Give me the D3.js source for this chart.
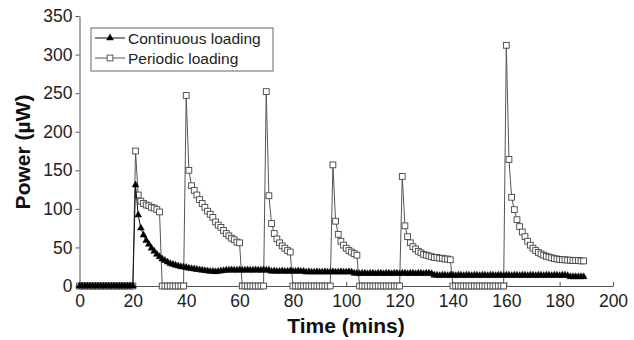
<!DOCTYPE html>
<html>
<head>
<meta charset="utf-8">
<script src="https://cdn.jsdelivr.net/npm/d3@7"></script>
<style>
  html, body { margin: 0; padding: 0; background: #fff; }
  svg { display: block; font-family: "Liberation Sans", Arial, sans-serif; }
</style>
</head>
<body>
<svg id="chart" width="634" height="340"></svg>
<script>
// ---- data (time in minutes, power in µW, one sample per minute t = 0..189) ----
const seriesNames = ["Continuous loading", "Periodic loading"];
const xTicks = [0, 20, 40, 60, 80, 100, 120, 140, 160, 180, 200];
const yTicks = [0, 50, 100, 150, 200, 250, 300, 350];

const continuous = [
  0,0,0,0,0,0,0,0,0,0,0,0,0,0,0,0,0,0,0,0,0,
  131,92,75,66,59,54,49,45,41,38,35,33,31,29,28,27,26,25,24.5,24,
  23,22.5,22,21.5,21,20.5,20,19.5,19,19,18.5,19,19.5,20,20.5,
  20.5,21,20.5,20.5,21,20.5,20.5,21,20.5,20.5,21,20.5,20.5,21,20.5,20.5,
  19,19.5,19,19,19.5,19,19,19.5,19,19,19.5,19,19,
  18,18.5,18,18,18.5,18,18,18.5,18,18,18.5,18,18,18.5,18,18,18.5,18,
  16.5,16.5,16,16.5,16.5,16,16.5,16.5,16,16.5,16.5,16,16.5,16.5,16,
  16.5,16.5,16,16.5,16.5,16,16.5,16.5,16,16.5,16.5,16,16.5,16.5,16,
  14,14,13.5,14,14,13.5,14,14,13.5,14,14,13.5,14,14,13.5,14,14,
  13.5,14,14,13.5,14,14,13.5,14,14,13.5,14,14,13.5,14,14,13.5,14,
  14,13.5,14,14,13.5,14,14,13.5,14,14,13.5,14,14,13.5,14,14,13.5,
  12,12,12,12,12,12
];

const periodic = [
  0,0,0,0,0,0,0,0,0,0,0,0,0,0,0,0,0,0,0,0,0,
  175,118,110,107,105,104,102,101,99,96,
  0,0,0,0,0,0,0,0,0,
  247,150,130,124,118,112,107,102,97,93,89,83,79,76,72,68,65,62,60,57,56,
  0,0,0,0,0,0,0,0,0,
  252,117,81,68,61,56,52,49,46,44,
  0,0,0,0,0,0,0,0,0,0,0,0,0,0,0,
  157,84,67,58,53,49,46,44,42,40,
  0,0,0,0,0,0,0,0,0,0,0,0,0,0,0,0,
  142,78,64,56,51,48,45,43,41,40,39,38,37,37,36,36,35,35,34,
  0,0,0,0,0,0,0,0,0,0,0,0,0,0,0,0,0,0,0,0,
  312,164,115,99,86,77,70,64,58,53,49,46,43.5,41.5,40,38.5,37.5,36.5,35.5,35,
  34.5,34,34,33.5,33.5,33,33,33,32.5,32.5
];

// ---- chart ----
const svg = d3.select("#chart");
const x = d3.scaleLinear().domain([0, 200]).range([79.5, 613]);
const y = d3.scaleLinear().domain([0, 350]).range([286, 16]);

const contPts = continuous.map((v, i) => [i, v]);
const perPts = periodic.map((v, i) => [i, v]);

const line = d3.line().x(d => x(d[0])).y(d => y(d[1]));

// axes
const yAxis = svg.append("g")
  .attr("transform", `translate(${x(0)},0)`)
  .call(d3.axisLeft(y).tickValues(yTicks).tickSizeInner(4).tickSizeOuter(0).tickPadding(3));
const xAxis = svg.append("g")
  .attr("transform", `translate(0,${y(0)})`)
  .call(d3.axisBottom(x).tickValues(xTicks).tickSizeInner(-4).tickSizeOuter(0).tickPadding(9));
[xAxis, yAxis].forEach(g => {
  g.selectAll("path.domain").attr("stroke", "#555").attr("stroke-width", 1);
  g.selectAll(".tick line").attr("stroke", "#555");
  g.selectAll(".tick text").attr("fill", "#222")
    .style("font-size", "17.5px").style("font-family", '"Liberation Sans", Arial, sans-serif');
});

// periodic series
svg.append("path").datum(perPts)
  .attr("d", line).attr("fill", "none").attr("stroke", "#555").attr("stroke-width", 1);
const sq = 5.8;
svg.append("g").selectAll("rect").data(perPts).join("rect")
  .attr("x", d => x(d[0]) - sq / 2).attr("y", d => y(d[1]) - sq / 2)
  .attr("width", sq).attr("height", sq)
  .attr("fill", "#fff").attr("stroke", "#444").attr("stroke-width", 0.9);

// continuous series
svg.append("path").datum(contPts)
  .attr("d", line).attr("fill", "none").attr("stroke", "#111").attr("stroke-width", 1);
const tri = d3.symbol().type(d3.symbolTriangle).size(20);
svg.append("g").selectAll("path").data(contPts).join("path")
  .attr("d", tri).attr("transform", d => `translate(${x(d[0])},${y(d[1])})`)
  .attr("fill", "#000").attr("stroke", "#000").attr("stroke-width", 0.5);

// axis titles
svg.append("text").attr("x", 346).attr("y", 333).attr("text-anchor", "middle")
  .attr("font-weight", "bold").attr("font-size", 21).attr("fill", "#111").text("Time (mins)");
svg.append("text").attr("transform", "translate(30,152) rotate(-90)").attr("text-anchor", "middle")
  .attr("font-weight", "bold").attr("font-size", 21).attr("fill", "#111").text("Power (µW)");

// legend
const lg = svg.append("g");
lg.append("rect").attr("x", 91).attr("y", 28).attr("width", 182).attr("height", 43)
  .attr("fill", "#fff").attr("stroke", "#666").attr("stroke-width", 1);
const rows = [38, 58];
seriesNames.forEach((name, i) => {
  const ly = rows[i];
  lg.append("line").attr("x1", 95).attr("x2", 125).attr("y1", ly).attr("y2", ly)
    .attr("stroke", i === 0 ? "#111" : "#555").attr("stroke-width", 1);
  if (i === 0) {
    lg.append("path").attr("d", tri).attr("transform", `translate(110,${ly})`)
      .attr("fill", "#000").attr("stroke", "#000").attr("stroke-width", 0.5);
  } else {
    lg.append("rect").attr("x", 110 - sq / 2).attr("y", ly - sq / 2).attr("width", sq).attr("height", sq)
      .attr("fill", "#fff").attr("stroke", "#444").attr("stroke-width", 0.9);
  }
  lg.append("text").attr("x", 128).attr("y", ly + 5.5).attr("font-size", 15.5).attr("fill", "#222").text(name);
});
</script>
</body>
</html>
